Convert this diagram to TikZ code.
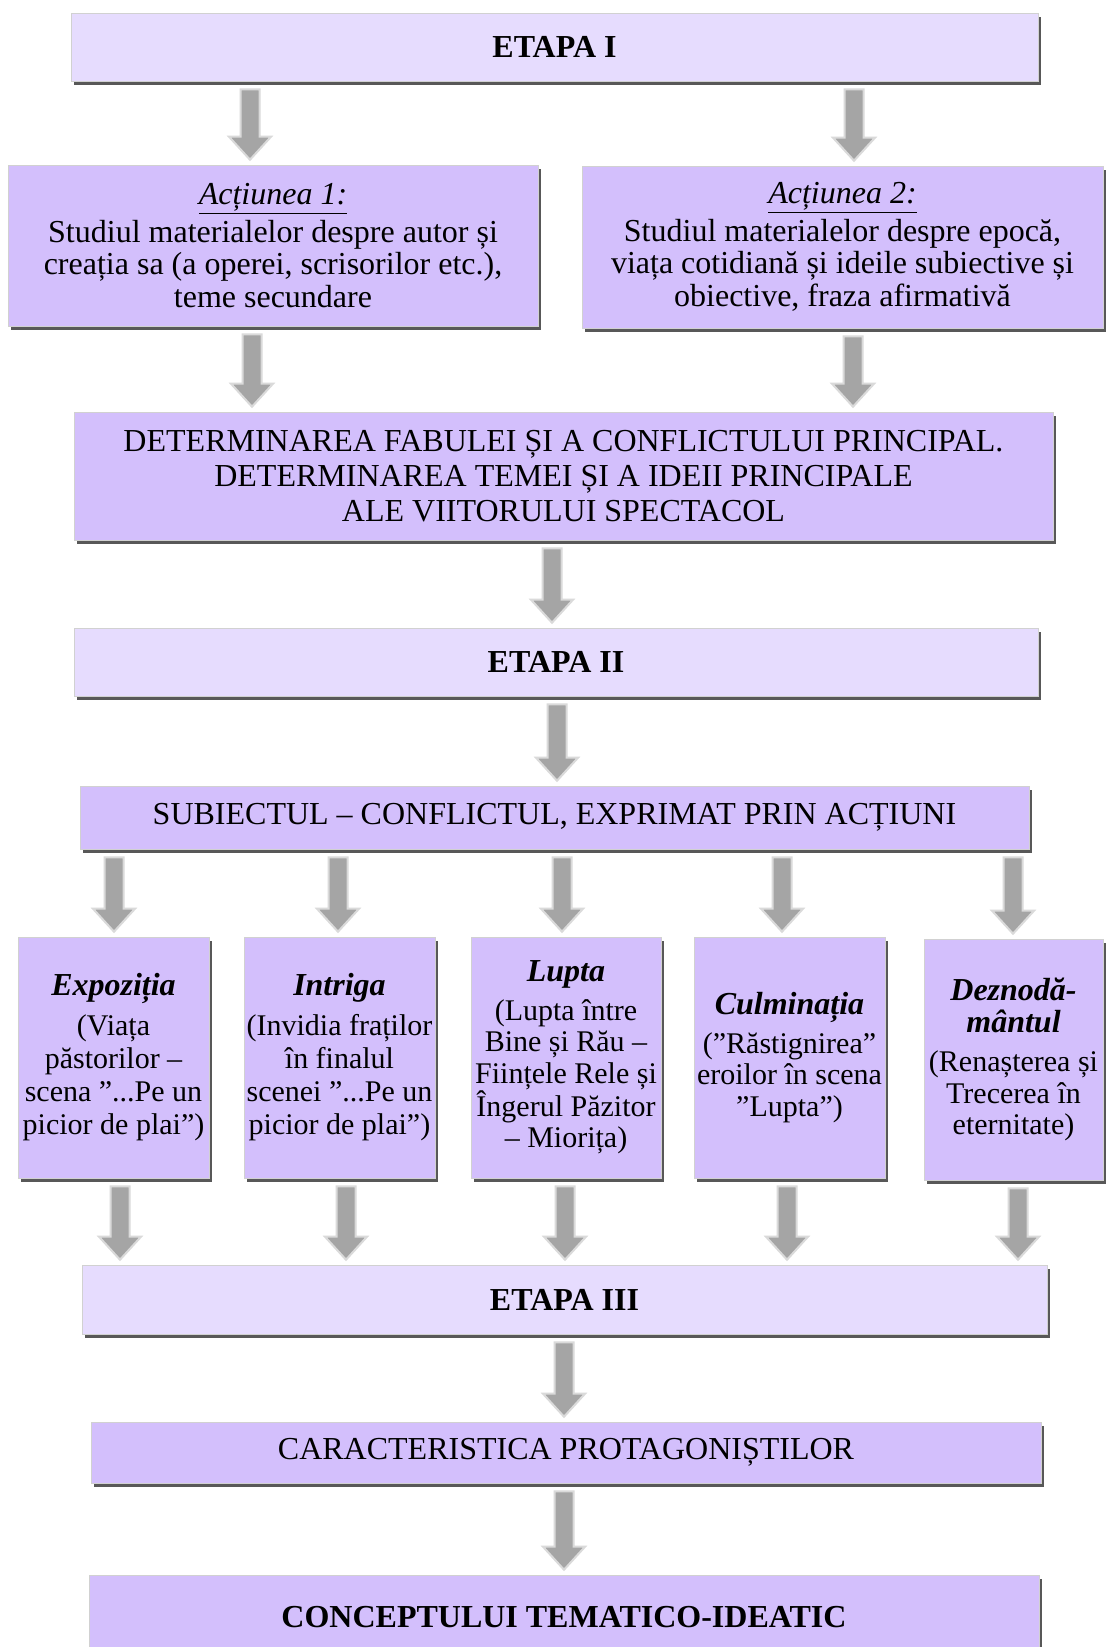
\documentclass[tikz,border=0pt]{standalone}
\usepackage{fontspec}
\setmainfont{Liberation Serif}
\usetikzlibrary{shadows,calc}
\definecolor{lightbox}{RGB}{230,220,254}
\definecolor{darkbox}{RGB}{211,191,252}
\definecolor{arrowgray}{RGB}{165,165,165}
\definecolor{arrowglow}{RGB}{218,218,218}
\definecolor{shadowgray}{RGB}{88,88,88}
\newcommand\diagfont{\fontsize{32pt}{32.5pt}\selectfont}
\newcommand\cardfont{\fontsize{30pt}{33pt}\selectfont}
\newcommand\cardtitle[1]{{\fontsize{32pt}{33pt}\selectfont\textbf{\textit{#1}}}}
\newcommand\flowarrow[3]{%
  \filldraw[flowarrowstyle]
    ($(#1.south -| #3)+(-9.5pt,-8pt)$) --
    ($(#2.north -| #3)+(-9.5pt,28pt)$) --
    ($(#2.north -| #3)+(-21pt,28pt)$) --
    ($(#2.north -| #3)+(0pt,5pt)$) --
    ($(#2.north -| #3)+(21pt,28pt)$) --
    ($(#2.north -| #3)+(9.5pt,28pt)$) --
    ($(#1.south -| #3)+(9.5pt,-8pt)$) -- cycle;}
\begin{document}
\begin{tikzpicture}[x=1pt,y=-1pt,
  basebox/.style={rectangle, inner sep=0pt, align=center, font=\diagfont,
    draw=black!18, line width=0.6pt,
    drop shadow={shadow xshift=2.5pt, shadow yshift=-4pt, fill=shadowgray, opacity=1}},
  stage/.style={basebox, fill=lightbox},
  card/.style={basebox, fill=darkbox},
  phase/.style={card, minimum height=241pt, font=\cardfont},
  flowarrowstyle/.style={fill=arrowgray, draw=arrowglow, line width=2pt, line join=miter}]
\useasboundingbox (0,0) rectangle (1106,1647);
\fill[white] (0,0) rectangle (1106,1647);

% nodes
\node[stage, minimum width=967pt, minimum height=68pt] (e1) at (554.5,47) {\textbf{ETAPA I}};
\node[card, minimum width=530pt, minimum height=161pt] (a1) at (273,245.5)
  {\underline{\textit{Acțiunea 1:}}\\[5pt] Studiul materialelor despre autor și\\ creația sa (a operei, scrisorilor etc.),\\ teme secundare};
\node[card, minimum width=521pt, minimum height=162pt] (a2) at (842.5,247)
  {\underline{\textit{Acțiunea 2:}}\\[5pt] Studiul materialelor despre epocă,\\ viața cotidiană și ideile subiective și\\ obiective, fraza afirmativă};
\node[card, minimum width=979pt, minimum height=128pt, font=\fontsize{32pt}{35pt}\selectfont] (det) at (563.5,476)
  {DETERMINAREA FABULEI ȘI A CONFLICTULUI PRINCIPAL.\\ DETERMINAREA TEMEI ȘI A IDEII PRINCIPALE\\ ALE VIITORULUI SPECTACOL};
\node[stage, minimum width=964pt, minimum height=68pt] (e2) at (556,662) {\textbf{ETAPA II}};
\node[card, minimum width=949pt, minimum height=63pt] (sub) at (554.5,817.5)
  {SUBIECTUL – CONFLICTUL, EXPRIMAT PRIN ACȚIUNI};

\node[phase, minimum width=191pt] (b1) at (113.5,1057.5)
  {\cardtitle{Expoziția}\\[7pt] (Viața\\ păstorilor –\\ scena ”...Pe un\\ picior de plai”)};
\node[phase, minimum width=191pt] (b2) at (339.5,1057.5)
  {\cardtitle{Intriga}\\[7pt] (Invidia fraților\\ în finalul\\ scenei ”...Pe un\\ picior de plai”)};
\node[phase, minimum width=190pt, font=\fontsize{30pt}{31.5pt}\selectfont] (b3) at (566,1057.5)
  {\cardtitle{Lupta}\\[7pt] (Lupta între\\ Bine și Rău –\\ Ființele Rele și\\ Îngerul Păzitor\\ – Miorița)};
\node[phase, minimum width=191pt, font=\fontsize{30pt}{31.5pt}\selectfont] (b4) at (789.5,1057.5)
  {\cardtitle{Culminația}\\[7pt] (”Răstignirea”\\ eroilor în scena\\ ”Lupta”)};
\node[phase, minimum width=179pt, font=\fontsize{30pt}{31.5pt}\selectfont] (b5) at (1013.5,1059.5)
  {\cardtitle{Deznodă-}\\ \cardtitle{mântul}\\[8pt] (Renașterea și\\ Trecerea în\\ eternitate)};

\node[stage, minimum width=965pt, minimum height=69pt] (e3) at (564.5,1299.5) {\textbf{ETAPA III}};
\node[card, minimum width=950pt, minimum height=61pt] (car) at (566,1452.5) {CARACTERISTICA PROTAGONIȘTILOR};
\node[card, minimum width=950pt, minimum height=85pt] (con) at (564,1617.5) {\textbf{CONCEPTULUI TEMATICO-IDEATIC}};

% arrow columns
\coordinate (cA) at (250,0);
\coordinate (cB) at (854,0);
\coordinate (cC) at (252,0);
\coordinate (cD) at (853,0);
\coordinate (cE) at (552,0);
\coordinate (cF) at (557,0);
\coordinate (s1) at (114,0);
\coordinate (s2) at (338,0);
\coordinate (s3) at (562,0);
\coordinate (s4) at (782,0);
\coordinate (s5) at (1013,0);
\coordinate (t1) at (120,0);
\coordinate (t2) at (346,0);
\coordinate (t3) at (565,0);
\coordinate (t4) at (787,0);
\coordinate (t5) at (1018,0);
\coordinate (cG) at (564,0);

% connectors
\flowarrow{e1}{a1}{cA}
\flowarrow{e1}{a2}{cB}
\flowarrow{a1}{det}{cC}
\flowarrow{a2}{det}{cD}
\flowarrow{det}{e2}{cE}
\flowarrow{e2}{sub}{cF}
\flowarrow{sub}{b1}{s1}
\flowarrow{sub}{b2}{s2}
\flowarrow{sub}{b3}{s3}
\flowarrow{sub}{b4}{s4}
\flowarrow{sub}{b5}{s5}
\flowarrow{b1}{e3}{t1}
\flowarrow{b2}{e3}{t2}
\flowarrow{b3}{e3}{t3}
\flowarrow{b4}{e3}{t4}
\flowarrow{b5}{e3}{t5}
\flowarrow{e3}{car}{cG}
\flowarrow{car}{con}{cG}
\end{tikzpicture}
\end{document}
